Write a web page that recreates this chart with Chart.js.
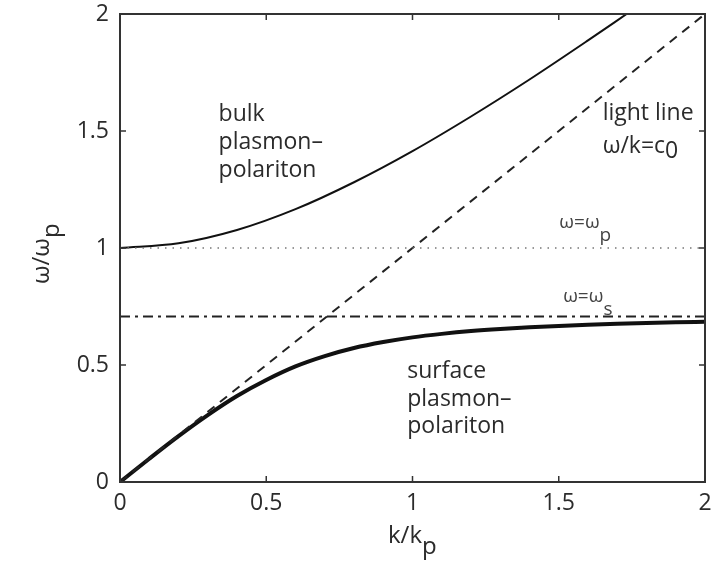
<!DOCTYPE html>
<html>
<head>
<meta charset="utf-8">
<script src="https://cdn.jsdelivr.net/npm/chart.js@4/dist/chart.umd.min.js"></script>
<style>
  html, body { margin: 0; padding: 0; background: #fff; }
  canvas { display: block; }
</style>
</head>
<body>
<canvas id="c" width="724" height="566"></canvas>
<script>
// Dispersion of plasmon-polaritons, normalised axes (k/kp, ω/ωp)
const kTicks = [0, 0.5, 1, 1.5, 2];
const wTicks = [0, 0.5, 1, 1.5, 2];

// bulk plasmon-polariton branch
const bulkK = [0, 0.2, 0.4, 0.6, 0.8, 1.0, 1.2, 1.4, 1.6, 1.732];
const bulkW = [1, 1.02, 1.077, 1.166, 1.281, 1.414, 1.562, 1.720, 1.887, 2.0];

// surface plasmon-polariton branch
const sppK = [0, 0.1, 0.2, 0.3, 0.4, 0.5, 0.6, 0.7, 0.8, 0.9, 1.0, 1.1, 1.2, 1.3, 1.4, 1.5, 1.6, 1.7, 1.8, 1.9, 2.0];
const sppW = [0, 0.0995, 0.196, 0.286, 0.3675, 0.436, 0.494, 0.538, 0.5725, 0.598, 0.618, 0.633, 0.645, 0.654, 0.661, 0.667, 0.672, 0.676, 0.6795, 0.6825, 0.685];

// light line ω = c0 k
const lightK = [0, 2];
const lightW = [0, 2];

// ω = ωp and ω = ωs reference levels
const plasmaK = [0, 2];
const plasmaW = [1, 1];
const surfK = [0, 2];
const surfW = [0.707, 0.707];

const pts = (xs, ys) => xs.map((x, i) => ({ x: x, y: ys[i] }));

const FONT = '"Open Sans", "Liberation Sans", Arial, sans-serif';
const INK = '#2b2b2b';

// draws "main" followed by a lowered subscript, starting at (x, y) baseline
function subText(ctx, x, y, main, sub, size, drop) {
  ctx.font = size + 'px ' + FONT;
  ctx.fillText(main, x, y);
  const w = ctx.measureText(main).width;
  ctx.fillText(sub, x + w, y + drop);
}

const framePlugin = {
  id: 'frame',
  afterDatasetsDraw(chart) {
    const { ctx, chartArea: a, scales } = chart;
    const xs = scales.x, ys = scales.y;
    ctx.save();
    ctx.strokeStyle = '#333';
    ctx.lineWidth = 2;
    ctx.strokeRect(a.left, a.top, a.right - a.left, a.bottom - a.top);
    ctx.lineWidth = 1.5;
    const L = 6;
    ctx.beginPath();
    kTicks.forEach(v => {
      const px = xs.getPixelForValue(v);
      ctx.moveTo(px, a.bottom); ctx.lineTo(px, a.bottom - L);
      ctx.moveTo(px, a.top); ctx.lineTo(px, a.top + L);
    });
    wTicks.forEach(v => {
      const py = ys.getPixelForValue(v);
      ctx.moveTo(a.left, py); ctx.lineTo(a.left + L, py);
      ctx.moveTo(a.right, py); ctx.lineTo(a.right - L, py);
    });
    ctx.stroke();
    ctx.restore();
  },
  afterDraw(chart) {
    const { ctx, scales } = chart;
    const X = v => scales.x.getPixelForValue(v);
    const Y = v => scales.y.getPixelForValue(v);
    ctx.save();
    ctx.fillStyle = INK;
    ctx.textAlign = 'left';
    ctx.textBaseline = 'alphabetic';

    // branch labels
    const block = (k, w, lines, lh) => {
      ctx.font = '23px ' + FONT;
      lines.forEach((t, i) => ctx.fillText(t, X(k), Y(w) + i * lh));
    };
    block(0.337, 1.543, ['bulk', 'plasmon\u2013', 'polariton'], 28);
    block(0.982, 0.444, ['surface', 'plasmon\u2013', 'polariton'], 27.5);

    ctx.font = '23px ' + FONT;
    ctx.fillText('light line', X(1.65), Y(1.547));
    subText(ctx, X(1.65), Y(1.406), '\u03c9/k=c', '0', 23, 5);

    ctx.fillStyle = '#444';
    subText(ctx, X(1.502), Y(1.085), '\u03c9=\u03c9', 'p', 19, 13);
    subText(ctx, X(1.515), Y(0.769), '\u03c9=\u03c9', 's', 19, 13);

    // axis titles
    ctx.fillStyle = INK;
    subText(ctx, 388, 543, 'k/k', 'p', 24, 11);
    ctx.translate(49, 284);
    ctx.rotate(-Math.PI / 2);
    subText(ctx, 0, 0, '\u03c9/\u03c9', 'p', 24, 10);
    ctx.restore();
  }
};

new Chart(document.getElementById('c'), {
  type: 'scatter',
  data: {
    datasets: [
      { data: pts(plasmaK, plasmaW), showLine: true, borderColor: '#777', borderWidth: 1.3, borderDash: [1.5, 6], pointRadius: 0 },
      { data: pts(surfK, surfW), showLine: true, borderColor: '#222', borderWidth: 2, borderDash: [10, 5, 3, 5], pointRadius: 0 },
      { data: pts(lightK, lightW), showLine: true, borderColor: '#222', borderWidth: 2, borderDash: [9, 7], pointRadius: 0 },
      { data: pts(bulkK, bulkW), showLine: true, borderColor: '#111', borderWidth: 2, pointRadius: 0, cubicInterpolationMode: 'monotone' },
      { data: pts(sppK, sppW), showLine: true, borderColor: '#111', borderWidth: 4, pointRadius: 0, cubicInterpolationMode: 'monotone' }
    ]
  },
  options: {
    responsive: false,
    animation: false,
    events: [],
    layout: { padding: { top: 14, right: 19, left: 0, bottom: 0 } },
    plugins: { legend: { display: false }, tooltip: { enabled: false } },
    scales: {
      x: {
        type: 'linear', min: 0, max: 2,
        afterBuildTicks: s => { s.ticks = kTicks.map(v => ({ value: v })); },
        afterFit: s => { s.height = 84; s.paddingLeft = 0; s.paddingRight = 0; },
        grid: { display: false, drawTicks: false },
        border: { display: false },
        ticks: { color: INK, font: { family: FONT, size: 23 }, padding: 8, maxRotation: 0, callback: v => String(v) }
      },
      y: {
        type: 'linear', min: 0, max: 2,
        afterBuildTicks: s => { s.ticks = wTicks.map(v => ({ value: v })); },
        afterFit: s => { s.width = 120; s.paddingTop = 0; s.paddingBottom = 0; },
        grid: { display: false, drawTicks: false },
        border: { display: false },
        ticks: { color: INK, font: { family: FONT, size: 23 }, padding: 11, callback: v => String(v) }
      }
    }
  },
  plugins: [framePlugin]
});
</script>
</body>
</html>
